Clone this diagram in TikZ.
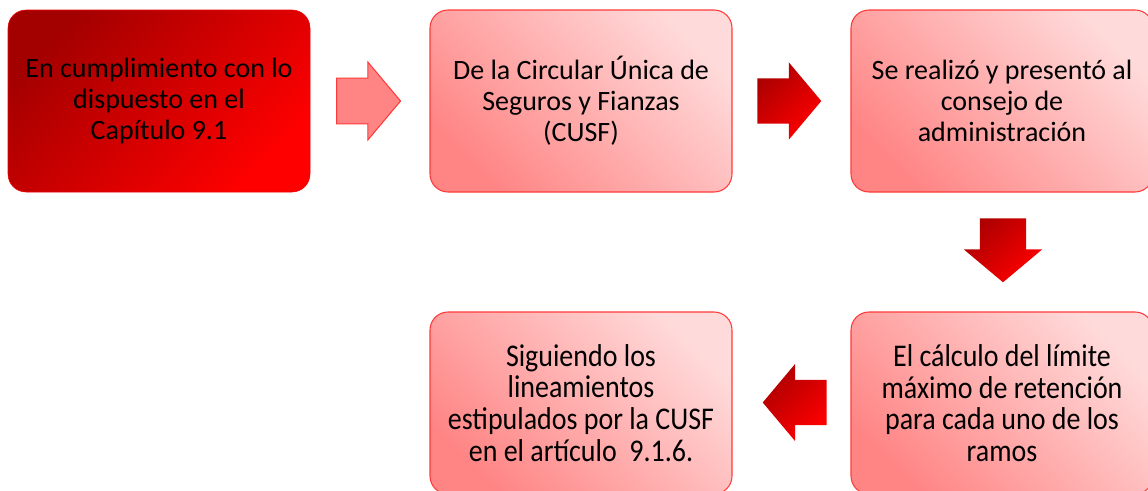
\documentclass[tikz,border=0pt]{standalone}
\usepackage{fontspec}
\setmainfont{Carlito}
\newfontfamily\narrowfont{Carlito}[FakeStretch=0.885]
\usetikzlibrary{shapes.arrows}
\definecolor{deepred}{HTML}{A30000}
\definecolor{brightred}{HTML}{FF0000}
\definecolor{palepink}{HTML}{FFDADA}
\definecolor{strongpink}{HTML}{FF8585}
\definecolor{edgered}{HTML}{FF3A3A}
\tikzset{
  flow_box/.style = {rectangle, rounded corners=13.5pt, align=center,
    inner sep=0pt, minimum width=226.5pt, minimum height=136.5pt,
    font=\fontsize{21}{23.3}\selectfont},
  dark_box/.style = {flow_box, draw=brightred!80!deepred, top color=deepred,
    bottom color=brightred, shading angle=45},% primer paso, rojo oscuro
  light_box/.style = {flow_box, draw=edgered, thick, top color=palepink,
    bottom color=strongpink, shading angle=-45},% pasos siguientes, rosa
  tall_text/.style = {font=\narrowfont\fontsize{23.7}{23.8}\selectfont},% texto de abajo
  block_arrow/.style = {single arrow, anchor=tail, inner xsep=0pt,
    inner ysep=16.8pt, minimum height=48pt, minimum width=57.5pt,
    single arrow head extend=12pt, single arrow tip angle=100},
  dark_arrow/.style = {block_arrow, top color=deepred!90!brightred,
    bottom color=brightred, shading angle=45},% flecha roja
  light_arrow/.style = {block_arrow, fill=strongpink, draw=edgered, thick}% flecha rosa
}
\begin{document}
\begin{tikzpicture}[x=0.75pt, y=-0.75pt]
  \useasboundingbox (0,0) rectangle (1148,490);
  % fila de arriba
  \node [dark_box] (capitulo) at (159,101)
    {En cumplimiento con lo\\dispuesto en el\\Capítulo 9.1};
  \node [light_box] (circular) at (581,101)
    {De la Circular Única de\\Seguros y Fianzas\\(CUSF)};
  \node [light_box] (consejo) at (1002,101)
    {Se realizó y presentó al\\consejo de\\administración};
  % fila de abajo
  \node [light_box, tall_text] (calculo) at (1002,403)
    {El cálculo del límite\\máximo de retención\\para cada uno de los\\ramos};
  \node [light_box, tall_text] (lineamientos) at (581,403)
    {Siguiendo los\\lineamientos\\estipulados por la CUSF\\en el artículo~ 9.1.6.};
  % flechas
  \node [light_arrow] (flecha_a) at (336,101) {};
  \node [dark_arrow] (flecha_b) at (757,101) {};
  \node [dark_arrow, shape border rotate=270, inner xsep=17.2pt,
    inner ysep=0pt] (flecha_c) at (1003,218) {};
  \node [dark_arrow, shape border rotate=180] (flecha_d) at (827,402.5) {};
\end{tikzpicture}
\end{document}
